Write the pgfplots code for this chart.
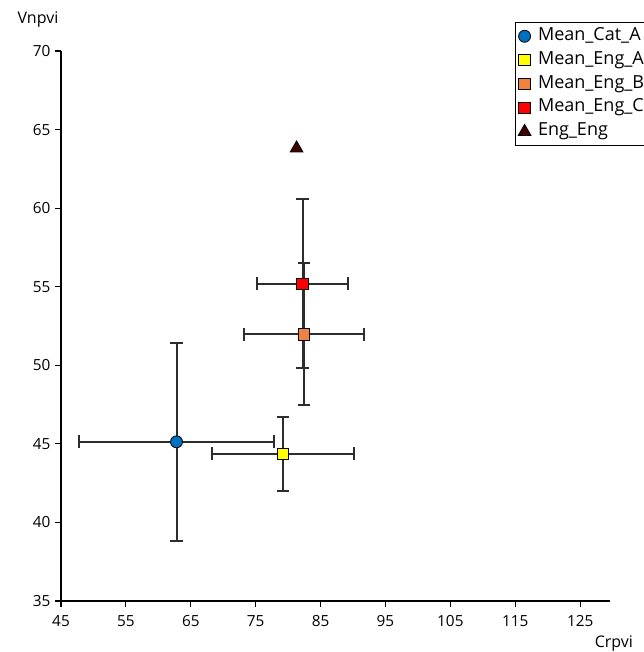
\documentclass[border=0pt]{standalone}
\usepackage{fontspec}
\setmainfont{Open Sans}
\usepackage{pgfplots}
\pgfplotsset{compat=1.18}
\definecolor{catblue}{RGB}{0,112,192}
\definecolor{engyellow}{RGB}{255,255,0}
\definecolor{engorange}{RGB}{242,128,64}
\definecolor{engred}{RGB}{255,0,0}
\definecolor{engtri}{RGB}{64,0,0}
\definecolor{errgray}{RGB}{45,45,45}
\pgfplotsset{myerr/.style={error bars/.cd, x dir=both, x explicit, y dir=both, y explicit,
  error bar style={line width=1.5pt, errgray},
  error mark=|,
  error mark options={mark size=4.8pt, line width=1.5pt, errgray}}}
\begin{document}
\begin{tikzpicture}
\begin{axis}[
  scale only axis, width=411.75pt, height=412.5pt,
  xmin=45, xmax=129.6, ymin=35, ymax=70,
  axis lines=left, axis line style={-, line width=1pt, black},
  xtick={45,55,...,125}, ytick={35,40,...,70},
  tick align=outside, major tick length=4.5pt,
  tick style={black, line width=0.8pt},
  tick label style={font=\fontsize{11.5}{13}\selectfont, black},
  xticklabel style={yshift=-3pt},
  /pgf/number format/assume math mode=true,
  clip=false,
  legend cell align=left,
  legend style={at={(0.827,1.0527)}, anchor=north west, draw=black, line width=0.8pt,
    font=\fontsize{13.5}{15}\selectfont, inner sep=2pt,
    nodes={text height=9.5pt, text depth=3.5pt, inner sep=1.8pt},
    /tikz/every odd column/.append style={column sep=3.5pt},
    row sep=1.3pt},
]
\addplot[only marks, mark=*, mark size=4.5pt, mark options={fill=catblue, draw=black, line width=0.6pt}, myerr]
  coordinates {(62.8,45.13) +- (15.0,6.31)};
\addlegendentry{Mean\_Cat\_A}
\addplot[only marks, mark=square*, mark size=4.3pt, mark options={fill=engyellow, draw=black, line width=0.6pt}, myerr]
  coordinates {(79.2,44.37) +- (11.0,2.37)};
\addlegendentry{Mean\_Eng\_A}
\addplot[only marks, mark=square*, mark size=4.3pt, mark options={fill=engorange, draw=black, line width=0.6pt}, myerr]
  coordinates {(82.45,51.98) +- (9.3,4.51)};
\addlegendentry{Mean\_Eng\_B}
\addplot[only marks, mark=square*, mark size=4.3pt, mark options={fill=engred, draw=black, line width=0.6pt}, myerr]
  coordinates {(82.22,55.19) +- (7.06,5.39)};
\addlegendentry{Mean\_Eng\_C}
\addplot[only marks, mark=triangle*, mark size=5.5pt, mark options={fill=engtri, draw=black, line width=0.6pt}]
  coordinates {(81.3,63.81)};
\addlegendentry{Eng\_Eng}
\node[font=\fontsize{12}{14}\selectfont] at (axis description cs:-0.042,1.057) {Vnpvi};
\node[font=\fontsize{12}{14}\selectfont] at (axis description cs:1.007,-0.078) {Crpvi};
\end{axis}
\pgfresetboundingbox
\path[use as bounding box] ([shift={(-45.75pt,-38.25pt)}]current axis.south west) rectangle ([shift={(24.75pt,38.25pt)}]current axis.north east);
\end{tikzpicture}
\end{document}
